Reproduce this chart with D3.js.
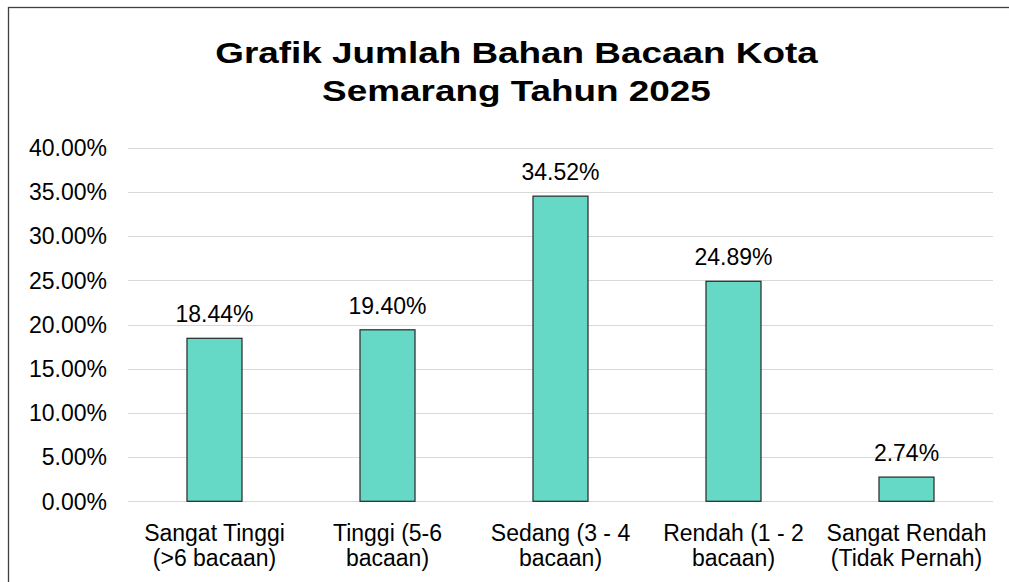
<!DOCTYPE html>
<head>
<meta charset="utf-8">
<script src="https://d3js.org/d3.v7.min.js"></script>
<style>
body{ margin:0; background:#fff; }
text{ font-family: "Liberation Sans", Arial, sans-serif; fill:#000; }
text.title{ font-size:30px; font-weight:700; }
text.tickLabel, text.valueLabel, text.catLabel{ font-size:23px; }
.grid line{ stroke:#d9d9d9; stroke-width:1.5px; shape-rendering:crispEdges; }
</style>
<title>Grafik Jumlah Bahan Bacaan</title>
</head>
<body>
<script>
const width = 1009, height = 582;

const categories = [
  ["Sangat Tinggi", "(>6 bacaan)"],
  ["Tinggi (5-6", "bacaan)"],
  ["Sedang (3 - 4", "bacaan)"],
  ["Rendah (1 - 2", "bacaan)"],
  ["Sangat Rendah", "(Tidak Pernah)"]
];
const values = [18.44, 19.40, 34.52, 24.89, 2.74];
const yTicks = [0, 5, 10, 15, 20, 25, 30, 35, 40];
const titleLines = ["Grafik Jumlah Bahan Bacaan Kota", "Semarang Tahun 2025"];

const margin = {top: 147.7, right: 16, bottom: 80.7, left: 128};

const svg = d3.select("body").append("svg")
  .attr("width", width)
  .attr("height", height);

// chart frame (runs past the window on right/bottom)
svg.append("rect")
  .attr("x", 8.5).attr("y", 7.5)
  .attr("width", 1020).attr("height", 600)
  .attr("fill", "#fff")
  .attr("stroke", "#404040")
  .attr("stroke-width", 1.3);

// title, slightly widened like the original
svg.selectAll("text.title")
  .data(titleLines)
  .enter().append("text")
  .attr("class", "title")
  .attr("text-anchor", "middle")
  .attr("transform", (d, i) => `translate(516.5, ${63.3 + i*37.4}) scale(1.23,1)`)
  .text(d => d);

const x = d3.scaleBand()
  .domain(d3.range(values.length))
  .range([margin.left, width - margin.right])
  .paddingInner(0.682)
  .paddingOuter(0.341);

const y = d3.scaleLinear()
  .domain([0, 40])
  .range([height - margin.bottom, margin.top]);

// gridlines
svg.append("g")
  .attr("class", "grid")
  .selectAll("line")
  .data(yTicks)
  .enter().append("line")
  .attr("x1", margin.left)
  .attr("x2", width - margin.right)
  .attr("y1", d => Math.round(y(d)) + 0.5)
  .attr("y2", d => Math.round(y(d)) + 0.5);

// y tick labels
svg.selectAll("text.tickLabel")
  .data(yTicks)
  .enter().append("text")
  .attr("class", "tickLabel")
  .attr("x", 107)
  .attr("y", d => y(d))
  .attr("dy", "0.36em")
  .attr("text-anchor", "end")
  .text(d => d.toFixed(2) + "%");

// bars
svg.selectAll("rect.bar")
  .data(values)
  .enter().append("rect")
  .attr("class", "bar")
  .attr("x", (d, i) => x(i))
  .attr("y", d => y(d))
  .attr("width", x.bandwidth())
  .attr("height", d => y(0) - y(d))
  .attr("fill", "#66d9c6")
  .attr("stroke", "#262626")
  .attr("stroke-width", 1.2);

// value labels
svg.selectAll("text.valueLabel")
  .data(values)
  .enter().append("text")
  .attr("class", "valueLabel")
  .attr("x", (d, i) => x(i) + x.bandwidth()/2)
  .attr("y", d => y(d) - 16)
  .attr("text-anchor", "middle")
  .text(d => d.toFixed(2) + "%");

// category labels
const cat = svg.selectAll("text.catLabel")
  .data(categories)
  .enter().append("text")
  .attr("class", "catLabel")
  .attr("text-anchor", "middle");

cat.selectAll("tspan")
  .data((d, i) => d.map(s => ({s, i})))
  .enter().append("tspan")
  .attr("x", d => x(d.i) + x.bandwidth()/2)
  .attr("y", (d, j) => 540.5 + j*25.5)
  .text(d => d.s);
</script>
</body>
